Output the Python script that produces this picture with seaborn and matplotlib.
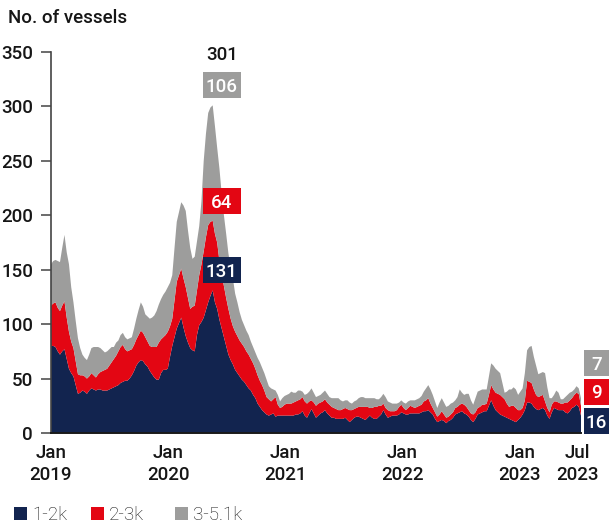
import numpy as np
import pandas as pd
import matplotlib
matplotlib.use("Agg")
import matplotlib.pyplot as plt
import matplotlib.dates as mdates
from matplotlib.patches import Rectangle
import seaborn as sns

# Weekly vessel counts by size class, starting first week of January 2019
first_week = "2019-01-01"

vessels_1_2k = [
    80, 80, 79, 75, 72, 75, 77, 68, 59, 55,
    52, 44, 36, 37, 39, 38, 36, 39, 41, 40,
    39, 40, 40, 39, 39, 39, 40, 41, 42, 43,
    44, 46, 47, 48, 48, 50, 53, 57, 62, 65,
    67, 66, 63, 61, 57, 54, 51, 49, 49, 55,
    58, 58, 59, 70, 80, 88, 96, 101, 106, 97,
    89, 83, 78, 76, 75, 90, 99, 102, 106, 113,
    120, 126, 131, 120, 114, 104, 96, 88, 80, 72,
    67, 63, 58, 55, 52, 49, 47, 44, 41, 39,
    35, 32, 27, 24, 21, 19, 17, 16, 17, 18,
    15, 16, 16, 16, 16, 16, 16, 16, 16, 17,
    17, 18, 20, 16, 14, 18, 22, 18, 14, 16,
    18, 19, 21, 18, 16, 14, 14, 13, 13, 13,
    13, 14, 12, 10, 12, 14, 15, 15, 14, 13,
    12, 14, 16, 14, 13, 13, 15, 17, 21, 17,
    14, 15, 16, 16, 16, 17, 19, 18, 17, 17,
    18, 18, 18, 18, 18, 19, 20, 20, 21, 19,
    17, 13, 10, 11, 12, 11, 9, 11, 12, 14,
    17, 18, 19, 20, 18, 17, 15, 12, 10, 13,
    17, 18, 19, 20, 20, 25, 30, 25, 21, 19,
    17, 16, 15, 14, 13, 12, 11, 10, 12, 14,
    17, 21, 28, 28, 27, 24, 22, 21, 22, 23,
    21, 16, 13, 19, 23, 22, 21, 21, 21, 19,
    18, 20, 23, 24, 26, 24, 16,
]

vessels_2_3k = [
    37, 39, 41, 40, 40, 42, 44, 38, 34, 29,
    26, 22, 18, 16, 14, 14, 14, 13, 14, 13,
    12, 14, 16, 18, 19, 20, 22, 24, 26, 28,
    31, 33, 34, 29, 27, 26, 24, 24, 24, 25,
    27, 26, 25, 23, 23, 25, 28, 30, 34, 31,
    30, 32, 34, 28, 25, 34, 43, 44, 45, 45,
    45, 41, 36, 40, 42, 41, 46, 53, 61, 67,
    71, 68, 64, 63, 61, 54, 50, 47, 44, 42,
    38, 35, 35, 34, 33, 33, 32, 31, 31, 29,
    29, 27, 26, 24, 23, 20, 16, 15, 12, 13,
    18, 10, 7, 8, 10, 11, 11, 11, 12, 12,
    13, 13, 13, 13, 13, 11, 8, 10, 11, 11,
    10, 10, 10, 10, 10, 10, 9, 9, 8, 8,
    9, 9, 10, 11, 9, 8, 8, 9, 10, 11,
    12, 10, 7, 9, 11, 11, 10, 8, 6, 6,
    7, 5, 4, 4, 5, 7, 7, 5, 4, 6,
    7, 6, 5, 6, 7, 7, 9, 10, 11, 8,
    6, 6, 5, 6, 8, 6, 5, 4, 5, 5,
    6, 6, 7, 7, 8, 7, 6, 6, 7, 6,
    6, 6, 7, 6, 7, 10, 14, 15, 16, 17,
    18, 17, 16, 13, 11, 13, 14, 13, 9, 7,
    6, 9, 20, 19, 19, 16, 13, 12, 12, 12,
    8, 7, 6, 7, 6, 7, 7, 6, 6, 9,
    10, 10, 9, 11, 11, 12, 9,
]

vessels_3_5k = [
    38, 39, 39, 43, 45, 53, 61, 60, 62, 50,
    42, 37, 33, 25, 19, 17, 17, 20, 23, 26,
    28, 25, 22, 19, 16, 16, 15, 14, 11, 12,
    10, 11, 11, 11, 11, 11, 11, 15, 19, 23,
    26, 24, 21, 23, 25, 27, 29, 33, 35, 37,
    39, 40, 41, 40, 40, 48, 55, 58, 61, 67,
    70, 62, 56, 44, 45, 45, 45, 58, 83, 95,
    103, 105, 106, 99, 87, 85, 74, 65, 59, 51,
    47, 44, 35, 31, 26, 22, 20, 19, 18, 16,
    15, 15, 16, 17, 16, 16, 16, 12, 12, 9,
    6, 9, 6, 8, 8, 8, 9, 11, 9, 8,
    9, 8, 5, 6, 9, 9, 11, 9, 8, 7,
    7, 8, 8, 8, 7, 8, 9, 10, 11, 9,
    7, 7, 8, 7, 6, 7, 7, 8, 9, 9,
    8, 8, 9, 9, 8, 7, 6, 8, 9, 10,
    8, 8, 7, 7, 6, 4, 4, 5, 6, 6,
    5, 6, 7, 7, 7, 8, 9, 11, 12, 13,
    12, 10, 8, 11, 12, 11, 10, 10, 10, 9,
    7, 9, 14, 10, 9, 12, 15, 12, 9, 13,
    15, 15, 14, 14, 13, 17, 20, 22, 22, 21,
    20, 13, 6, 11, 16, 15, 17, 17, 14, 17,
    18, 25, 28, 32, 34, 30, 27, 21, 21, 21,
    26, 19, 13, 6, 6, 10, 9, 4, 4, 5,
    7, 7, 6, 5, 6, 5, 7,
]

series_names = ["1-2k", "2-3k", "3-5.1k"]
series_colors = ["#12244f", "#e30613", "#9d9d9c"]

x_tick_dates = ["2019-01-01", "2020-01-01", "2021-01-01", "2022-01-01",
                "2023-01-01", "2023-07-01"]
x_tick_labels = ["Jan\n2019", "Jan\n2020", "Jan\n2021", "Jan\n2022",
                 "Jan\n2023", "Jul\n2023"]
y_ticks = [0, 50, 100, 150, 200, 250, 300, 350]
y_title = "No. of vessels"

# ---------------------------------------------------------------------------
series_values = [vessels_1_2k, vessels_2_3k, vessels_3_5k]
n_weeks = len(vessels_1_2k)
dates = pd.date_range(first_week, periods=n_weeks, freq="7D")
xnum = mdates.date2num(dates)

long = pd.DataFrame({
    "week": np.tile(xnum, len(series_names)),
    "size": np.repeat(series_names, n_weeks),
    "vessels": np.concatenate(series_values),
})

sns.set_theme(style="white")
plt.rcParams["font.family"] = ["Roboto", "DejaVu Sans"]
text_color = "#161616"
label_weight = "medium"

W, H = 609, 524
fig = plt.figure(figsize=(W / 100, H / 100), dpi=100)
ax_left, ax_right, ax_top, ax_bottom = 51, 581, 52, 433
ax = fig.add_axes([ax_left / W, 1 - ax_bottom / H,
                   (ax_right - ax_left) / W, (ax_bottom - ax_top) / H])

# one bin per week, centred on the week, so the polygon vertices sit on the dates
edges = np.concatenate([xnum - 3.5, [xnum[-1] + 3.5]]).tolist()
sns.histplot(
    data=long, x="week", weights="vessels", hue="size",
    hue_order=series_names[::-1],          # last level ends up at the bottom
    palette=dict(zip(series_names, series_colors)),
    multiple="stack", element="poly", bins=edges,
    alpha=1, linewidth=0, edgecolor="none", legend=False, ax=ax,
)

ax.set_xlim(xnum[0], xnum[-1])
ax.set_ylim(0, 350)
ax.set_xlabel("")
ax.set_ylabel("")
ax.set_xticks(mdates.date2num(pd.to_datetime(x_tick_dates)))
ax.set_xticklabels(x_tick_labels, fontsize=13.5, color=text_color,
                   linespacing=1.25, fontweight=label_weight)
ax.set_yticks(y_ticks)
ax.set_yticklabels([str(v) for v in y_ticks], fontsize=13.5, color=text_color,
                   fontweight=label_weight)
ax.tick_params(axis="x", length=0, pad=8)
ax.tick_params(axis="y", length=7, width=1.1, color="#444444", pad=6, left=True)
for side in ["top", "right"]:
    ax.spines[side].set_visible(False)
ax.spines["left"].set_color("#444444")
ax.spines["left"].set_linewidth(1.2)
ax.spines["bottom"].set_color("#1a1a1a")
ax.spines["bottom"].set_linewidth(1.4)
ax.grid(False)

fig.text(8 / W, 1 - 18 / H, y_title, fontsize=13.5, color=text_color,
         ha="left", va="center", fontweight=label_weight)


def to_fig(px, py):
    """Figure-fraction coordinates from pixel coordinates (origin top-left)."""
    return px / W, 1 - py / H


def data_to_px(x, y):
    dx, dy = ax.transData.transform((x, y))
    return dx, H - dy


def value_box(cx, cy, w, h, text, color):
    x0, y0 = to_fig(cx - w / 2, cy + h / 2)
    fig.patches.append(Rectangle((x0, y0), w / W, h / H, transform=fig.transFigure,
                                 facecolor=color, edgecolor="none", zorder=5))
    fx, fy = to_fig(cx, cy)
    fig.text(fx, fy, text, ha="center", va="center_baseline", fontsize=13.5,
             color="white", zorder=6, fontweight=label_weight)


# Peak week labels
totals = np.sum(series_values, axis=0)
peak = int(np.argmax(totals))
px_peak, _ = data_to_px(xnum[peak], 0)
cum = 0
for vals, color in zip(series_values, series_colors):
    cum += vals[peak]
    _, py = data_to_px(xnum[peak], cum)
    value_box(px_peak + 9, py - 20, 38, 26, str(vals[peak]), color)
_, py_tot = data_to_px(xnum[peak], totals[peak])
fx, fy = to_fig(px_peak + 9, py_tot - 52)
fig.text(fx, fy, str(totals[peak]), ha="center", va="center_baseline",
         fontsize=13.5, color=text_color, fontweight=label_weight)

# Latest week labels, stacked at the right edge
px_end, py_base = data_to_px(xnum[-1], 0)
for i, (vals, color) in enumerate(zip(series_values, series_colors)):
    value_box(px_end + 15.5, py_base - 12.5 - 29 * i, 25, 26, str(vals[-1]), color)

# Legend
legend_x = [14, 91, 175]
for lx, name, color in zip(legend_x, series_names, series_colors):
    x0, y0 = to_fig(lx, 519.5)
    fig.patches.append(Rectangle((x0, y0), 13 / W, 13 / H, transform=fig.transFigure,
                                 facecolor=color, edgecolor="none"))
    fx, fy = to_fig(lx + 18, 519.5)
    fig.text(fx, fy, name, ha="left", va="baseline", fontsize=13.5,
             color=text_color, fontweight="light")

fig.savefig("out.png", dpi=100)
